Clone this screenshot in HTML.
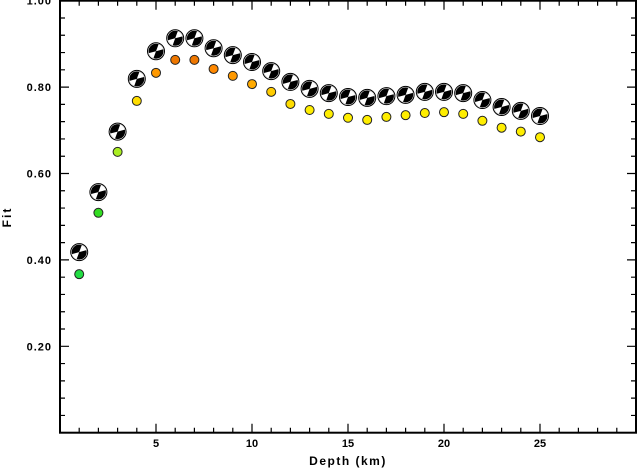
<!DOCTYPE html>
<html><head><meta charset="utf-8"><style>
body{margin:0;background:#fff;}
svg{display:block;font-family:"Liberation Sans",sans-serif;}
</style></head><body>
<svg id="chart" width="637" height="468" viewBox="0 0 637 468" xmlns="http://www.w3.org/2000/svg">
<g id="axes"></g>
<g id="marks"></g>
<text x="348" y="465" text-anchor="middle" font-size="12" font-weight="bold" letter-spacing="1.5">Depth (km)</text>
<text x="0" y="0" transform="translate(11,217) rotate(-90)" text-anchor="middle" font-size="12" font-weight="bold" letter-spacing="2">Fit</text>
</svg>
<script>
const depths=[1,2,3,4,5,6,7,8,9,10,11,12,13,14,15,16,17,18,19,20,21,22,23,24,25];
const mechFit=[.418,.557,.697,.819,.883,.913,.913,.89,.874,.858,.837,.812,.796,.786,.777,.775,.779,.782,.789,.789,.786,.77,.754,.745,.733];
const dotFit=[.367,.509,.65,.768,.833,.863,.863,.842,.826,.807,.789,.761,.747,.738,.729,.724,.731,.735,.74,.742,.738,.722,.706,.697,.684];
const dotColor=["#22dd44","#33dd22","#aaee22","#ffdd00","#ff9900","#ee7700","#ee7700","#ff8800","#ff9900","#ffaa00","#ffcc00","#ffdd00","#ffee00","#ffee00","#ffee00","#ffee00","#ffee00","#ffee00","#ffee00","#ffee00","#ffee00","#ffee00","#ffee00","#ffee00","#ffee00"];
const xTicks=[5,10,15,20,25];
const yTicks=[0.2,0.4,0.6,0.8,1.0];
const yTickLabels=["0.20","0.40","0.60","0.80","1.00"];
const X0=60,X1=636,Y0=432.7,Y1=0.7;
const xs=v=>X0+(X1-X0)*v/30;
const ys=v=>Y0-(Y0-Y1)*v;
const NS="http://www.w3.org/2000/svg";
function mk(tag,attrs,parent){const e=document.createElementNS(NS,tag);for(const k in attrs)e.setAttribute(k,attrs[k]);parent.appendChild(e);return e;}
const ax=document.getElementById('axes'),mk2=document.getElementById('marks');
const frame=mk('rect',{x:X0,y:Y1,width:X1-X0,height:Y0-Y1,fill:'none',stroke:'#000','stroke-width':2},ax);


for(let k=1;k<30;k++){const x=xs(k);const L=(k%5===0)?9:5;
 const t=mk('path',{d:`M${x},${Y0}v${-L}M${x},${Y1}v${L}`,stroke:'#000','stroke-width':1.2},ax);
 
 }
xTicks.forEach(v=>{const t=mk('text',{x:xs(v),y:447,'text-anchor':'middle','font-size':11,'font-weight':'bold'},ax);t.textContent=v;
 
 });
for(let k=1;k<25;k++){const v=k*0.04;const y=ys(v);const L=(k%5===0)?9:5;
 const t=mk('path',{d:`M${X0},${y}h${L}M${X1},${y}h${-L}`,stroke:'#000','stroke-width':1.2},ax);
 
 }
yTicks.forEach((v,i)=>{const t=mk('text',{x:52,y:ys(v)+4,'text-anchor':'end','font-size':11,'font-weight':'bold','letter-spacing':1},ax);t.textContent=yTickLabels[i];
 
 });
function wedge(cx,cy,r,a0,a1){const p=a=>[cx+r*Math.cos(a*Math.PI/180),cy+r*Math.sin(a*Math.PI/180)];const [x0,y0]=p(a0),[x1,y1]=p(a1);
 return `M${cx},${cy}L${x0},${y0}A${r},${r} 0 0 1 ${x1},${y1}Z`;}
depths.forEach((d,i)=>{
 const cx=xs(d),cy=ys(dotFit[i]);
 const c=mk('circle',{cx,cy,r:4.5,fill:dotColor[i],stroke:'#222','stroke-width':1},mk2);
 
 
 const bx=xs(d),by=ys(mechFit[i]);
 const g=mk('g',{},mk2);
 
 
 mk('circle',{cx:bx,cy:by,r:8.5,fill:'#fff',stroke:'#000','stroke-width':1},g);
 mk('circle',{cx:bx,cy:by,r:7.5,fill:'#000'},g);
 mk('path',{d:wedge(bx,by,7.5,-70,-15),fill:'#fff'},g);
 mk('path',{d:wedge(bx,by,7.5,110,165),fill:'#fff'},g);
});
</script>
</body></html>
